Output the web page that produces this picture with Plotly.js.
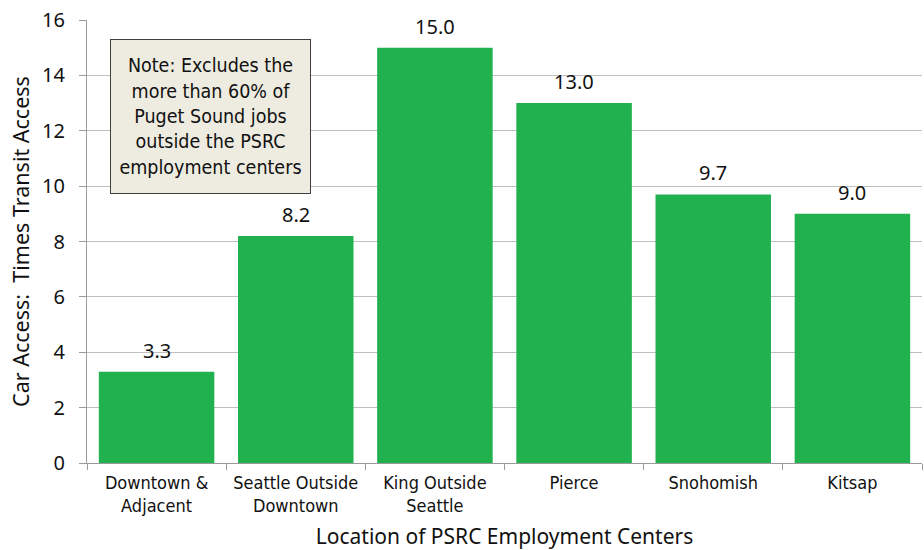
<!DOCTYPE html>
<html>
<head>
<meta charset="utf-8">
<script src="https://cdn.plot.ly/plotly-3.0.1.min.js"></script>
<style>html,body{margin:0;padding:0;background:#fff;}#chart{width:924px;height:550px;}</style>
</head>
<body>
<div id="chart"></div>
<script>
const categories = ["Downtown &amp;<br>Adjacent", "Seattle Outside<br>Downtown", "King Outside<br>Seattle", "Pierce", "Snohomish", "Kitsap"];
const values = [3.3, 8.2, 15.0, 13.0, 9.7, 9.0];
const valueLabels = ["3.3", "8.2", "15.0", "13.0", "9.7", "9.0"];
const yTicks = [0, 2, 4, 6, 8, 10, 12, 14, 16];

const narrow = '"Liberation Sans Narrow", "Arial Narrow", "DejaVu Sans Condensed", sans-serif';
const myriad = '"Noto Sans", "Open Sans", sans-serif';

const trace = {
  type: 'bar',
  x: categories,
  y: values,
  marker: {color: '#22B14F'},
  hoverinfo: 'skip'
};

const annotations = categories.map((c, i) => ({
  x: c, y: values[i], xref: 'x', yref: 'y',
  text: valueLabels[i], showarrow: false,
  yanchor: 'bottom', yshift: 6,
  font: {family: myriad, size: 20, color: '#111'}
}));

annotations.push({
  xref: 'paper', yref: 'paper', x: 0.0275, y: 0.957,
  xanchor: 'left', yanchor: 'top',
  text: 'Note: Excludes the<br>more than 60% of<br>Puget Sound jobs<br>outside the PSRC<br>employment centers',
  showarrow: false, align: 'center',
  width: 187, height: 141,
  bgcolor: '#EEECE1', bordercolor: '#404040', borderwidth: 1, borderpad: 6,
  font: {family: narrow, size: 19.5, color: '#111'}
});

const layout = {
  width: 924, height: 550,
  margin: {l: 87, r: 2, t: 20, b: 87},
  paper_bgcolor: '#fff', plot_bgcolor: '#fff',
  bargap: 0.17,
  showlegend: false,
  xaxis: {
    type: 'category',
    showline: true, linecolor: '#9A9A9A', linewidth: 1,
    ticks: 'outside', tickson: 'boundaries', ticklen: 6, tickcolor: '#9A9A9A',
    ticklabelstandoff: 3,
    showgrid: false,
    tickfont: {family: narrow, size: 18, color: '#111'},
    title: {text: 'Location of PSRC Employment Centers', font: {family: myriad, size: 21, color: '#111'}, standoff: 18},
    automargin: false
  },
  yaxis: {
    range: [0, 16], tickvals: yTicks,
    showline: true, linecolor: '#9A9A9A', linewidth: 1,
    ticks: 'outside', ticklen: 7, tickcolor: '#9A9A9A',
    ticklabelstandoff: 10,
    showgrid: true, gridcolor: '#BFBFBF', gridwidth: 1,
    zeroline: false,
    tickfont: {family: myriad, size: 20, color: '#111'},
    title: {text: 'Car Access:  Times Transit Access', font: {family: myriad, size: 21.5, color: '#111'}, standoff: 6},
    automargin: false
  },
  annotations: annotations
};

Plotly.newPlot('chart', [trace], layout, {displayModeBar: false, staticPlot: true});
</script>
</body>
</html>
